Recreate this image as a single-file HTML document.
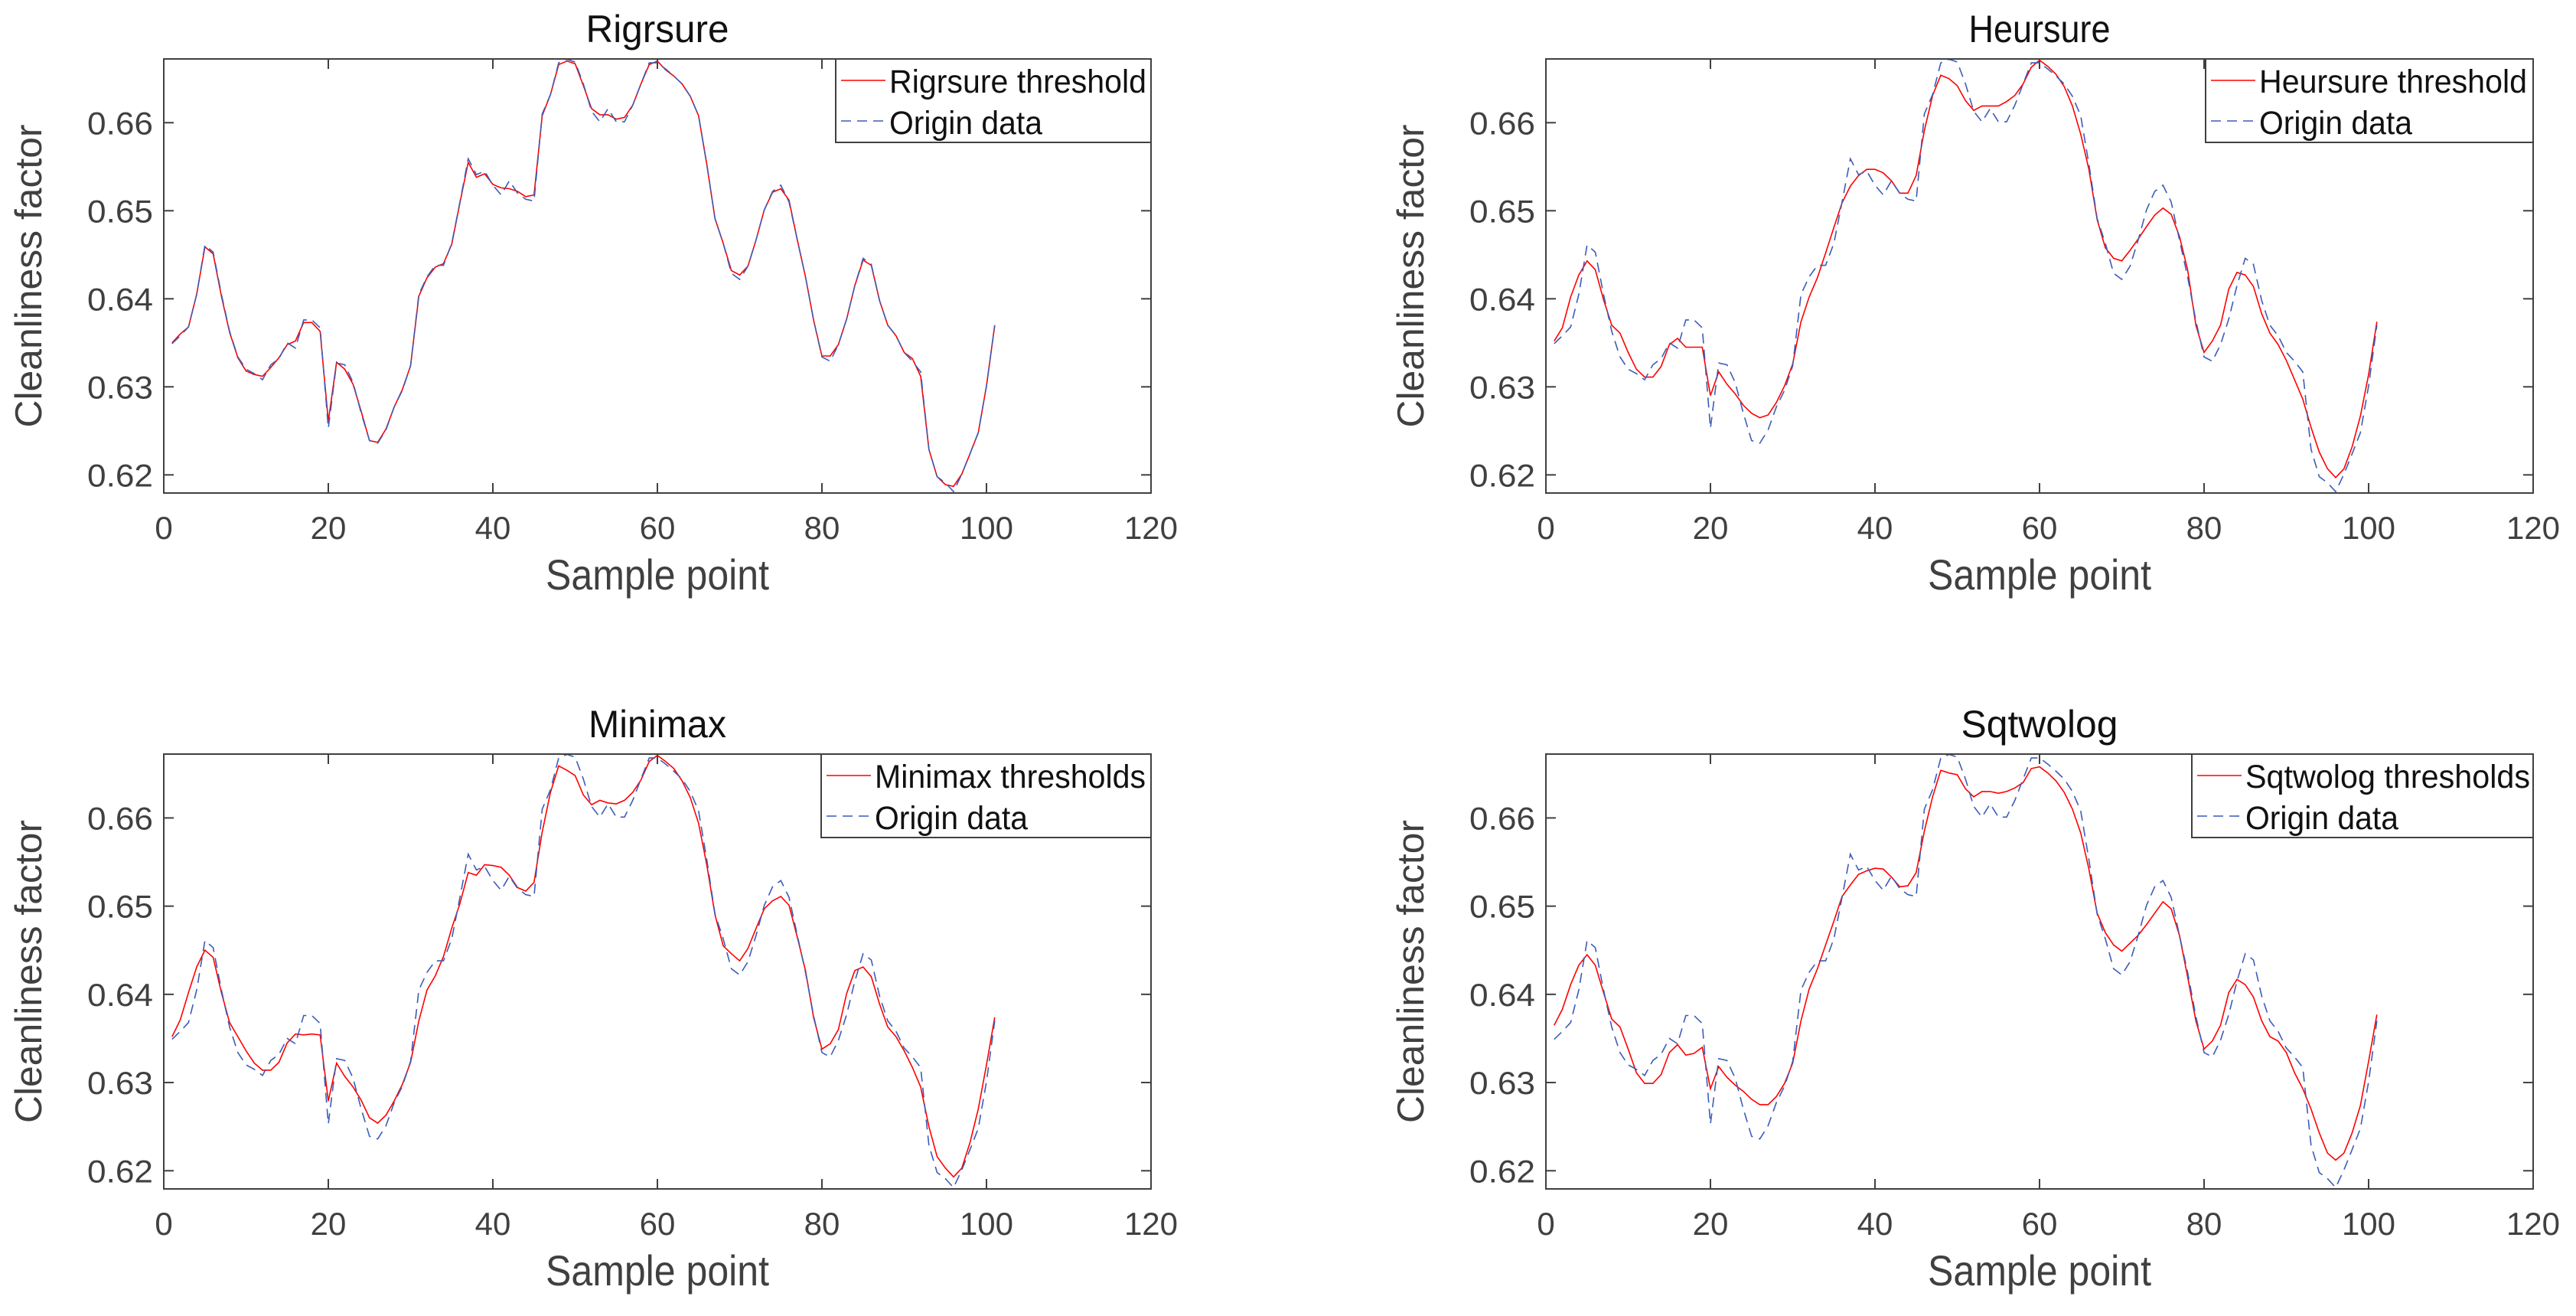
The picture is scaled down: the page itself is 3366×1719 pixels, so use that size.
<!DOCTYPE html>
<html><head><meta charset="utf-8"><style>
html,body{margin:0;padding:0;background:#fff;}
svg{display:block;font-family:"Liberation Sans",Arial,sans-serif;}
</style></head><body>
<svg id="fig" width="3366" height="1719" viewBox="0 0 3366 1719" xmlns="http://www.w3.org/2000/svg">
<rect width="3366" height="1719" fill="#fff"/>
</svg>
<script>
const xTicks = [0,20,40,60,80,100,120];
const yTicks = [0.62,0.63,0.64,0.65,0.66];
const yTickLabels = ["0.62","0.63","0.64","0.65","0.66"];
const originData = [0.6349,0.6358,0.6368,0.6405,0.6461,0.6453,0.6405,0.6363,0.6334,0.6320,0.6315,0.6308,0.6325,0.6332,0.6350,0.6344,0.6376,0.6376,0.6367,0.6253,0.6327,0.6325,0.6305,0.6270,0.6239,0.6236,0.6251,0.6277,0.6296,0.6324,0.6405,0.6425,0.6438,0.6438,0.6463,0.6510,0.6559,0.6541,0.6545,0.6529,0.6518,0.6534,0.6520,0.6513,0.6511,0.6610,0.6632,0.6668,0.6672,0.6669,0.6644,0.6613,0.6601,0.6616,0.6601,0.6601,0.6620,0.6644,0.6668,0.6668,0.6661,0.6653,0.6644,0.6630,0.6608,0.6553,0.6491,0.6463,0.6429,0.6422,0.6437,0.6467,0.6501,0.6522,0.6529,0.6510,0.6467,0.6425,0.6375,0.6334,0.6329,0.6348,0.6377,0.6415,0.6446,0.6439,0.6398,0.6370,0.6358,0.6339,0.6329,0.6317,0.6229,0.6198,0.6191,0.6181,0.6201,0.6224,0.6248,0.6301,0.6370];
const rigrsureData = [0.6350,0.6360,0.6368,0.6405,0.6459,0.6451,0.6403,0.6362,0.6333,0.6318,0.6314,0.6312,0.6322,0.6333,0.6348,0.6352,0.6373,0.6373,0.6363,0.6261,0.6328,0.6320,0.6303,0.6272,0.6239,0.6237,0.6252,0.6277,0.6297,0.6324,0.6403,0.6424,0.6436,0.6440,0.6462,0.6509,0.6555,0.6538,0.6542,0.6530,0.6526,0.6525,0.6522,0.6516,0.6518,0.6608,0.6632,0.6666,0.6670,0.6667,0.6642,0.6616,0.6609,0.6609,0.6604,0.6606,0.6620,0.6644,0.6666,0.6670,0.6660,0.6653,0.6644,0.6630,0.6608,0.6553,0.6491,0.6463,0.6432,0.6427,0.6437,0.6467,0.6501,0.6521,0.6525,0.6512,0.6467,0.6425,0.6375,0.6335,0.6335,0.6348,0.6377,0.6415,0.6444,0.6438,0.6398,0.6370,0.6358,0.6339,0.6332,0.6312,0.6229,0.6198,0.6189,0.6187,0.6201,0.6224,0.6248,0.6301,0.6370];
const heursureData = [0.6352,0.6367,0.6402,0.6427,0.6443,0.6433,0.6399,0.6370,0.6361,0.6339,0.6320,0.6311,0.6311,0.6323,0.6348,0.6355,0.6345,0.6345,0.6345,0.6290,0.6317,0.6303,0.6292,0.6279,0.6270,0.6265,0.6268,0.6282,0.6301,0.6326,0.6374,0.6402,0.6424,0.6452,0.6481,0.6509,0.6528,0.6540,0.6547,0.6547,0.6543,0.6534,0.6520,0.6520,0.6540,0.6591,0.6631,0.6654,0.6650,0.6642,0.6625,0.6614,0.6619,0.6619,0.6619,0.6624,0.6631,0.6644,0.6663,0.6671,0.6664,0.6655,0.6641,0.6619,0.6587,0.6547,0.6490,0.6458,0.6446,0.6443,0.6455,0.6468,0.6482,0.6495,0.6503,0.6496,0.6471,0.6433,0.6370,0.6339,0.6352,0.6370,0.6411,0.6430,0.6427,0.6414,0.6383,0.6361,0.6348,0.6330,0.6308,0.6286,0.6254,0.6226,0.6207,0.6197,0.6207,0.6232,0.6267,0.6314,0.6374];
const minimaxData = [0.6352,0.6371,0.6402,0.6431,0.6450,0.6442,0.6402,0.6368,0.6352,0.6336,0.6322,0.6314,0.6314,0.6323,0.6345,0.6355,0.6354,0.6355,0.6354,0.6279,0.6322,0.6307,0.6295,0.6280,0.6260,0.6254,0.6263,0.6279,0.6298,0.6323,0.6370,0.6405,0.6421,0.6443,0.6475,0.6503,0.6538,0.6535,0.6547,0.6546,0.6544,0.6535,0.6521,0.6517,0.6527,0.6584,0.6629,0.6659,0.6654,0.6648,0.6626,0.6615,0.6620,0.6617,0.6616,0.6620,0.6629,0.6643,0.6664,0.6671,0.6664,0.6656,0.6642,0.6623,0.6594,0.6547,0.6490,0.6455,0.6446,0.6438,0.6452,0.6475,0.6497,0.6506,0.6511,0.6501,0.6465,0.6427,0.6373,0.6338,0.6344,0.6360,0.6401,0.6427,0.6431,0.6420,0.6389,0.6363,0.6352,0.6336,0.6317,0.6295,0.6250,0.6216,0.6203,0.6193,0.6203,0.6232,0.6270,0.6320,0.6374];
const sqtwologData = [0.6365,0.6383,0.6411,0.6433,0.6445,0.6433,0.6402,0.6372,0.6363,0.6338,0.6311,0.6299,0.6299,0.6309,0.6334,0.6343,0.6331,0.6333,0.6340,0.6293,0.6318,0.6306,0.6297,0.6290,0.6281,0.6275,0.6275,0.6284,0.6299,0.6322,0.6370,0.6406,0.6429,0.6456,0.6483,0.6511,0.6524,0.6536,0.6540,0.6543,0.6542,0.6533,0.6522,0.6523,0.6538,0.6585,0.6624,0.6654,0.6651,0.6649,0.6633,0.6624,0.6630,0.6630,0.6628,0.6630,0.6634,0.6640,0.6656,0.6658,0.6651,0.6642,0.6629,0.6610,0.6583,0.6542,0.6492,0.6470,0.6456,0.6449,0.6458,0.6467,0.6479,0.6492,0.6505,0.6497,0.6467,0.6420,0.6370,0.6338,0.6347,0.6365,0.6402,0.6417,0.6411,0.6397,0.6370,0.6352,0.6347,0.6334,0.6311,0.6293,0.6270,0.6243,0.6220,0.6212,0.6220,0.6243,0.6274,0.6324,0.6377];
const titles = ["Rigrsure","Heursure","Minimax","Sqtwolog"];
const legendLabels = ["Rigrsure threshold","Heursure threshold","Minimax thresholds","Sqtwolog thresholds"];
const seriesList = [rigrsureData, heursureData, minimaxData, sqtwologData];

const NS = "http://www.w3.org/2000/svg";
const svg = document.getElementById('fig');
const X_MIN = 0, X_MAX = 120, Y_MIN = 0.61794, Y_MAX = 0.66724;
const AX = "#404040";
const BLUE = "#3d5cb8";
function mk(tag, attrs, parent) {
  const e = document.createElementNS(NS, tag);
  for (const k in attrs) e.setAttribute(k, attrs[k]);
  (parent || svg).appendChild(e);
  return e;
}
const panels = [
  {l:214, t:77, w:1290, h:567, legL:1092, legTW:336, titleW:187},
  {l:2020, t:77, w:1290, h:567, legL:2882, legTW:350, titleW:185},
  {l:214, t:985, w:1290, h:568, legL:1073, legTW:354, titleW:180},
  {l:2020, t:985, w:1290, h:568, legL:2864, legTW:372, titleW:205}
];
panels.forEach((p, i) => {
  const g = mk('g', {});
  
  
  const sx = v => p.l + (v - X_MIN) / (X_MAX - X_MIN) * p.w;
  const sy = v => p.t + p.h - (v - Y_MIN) / (Y_MAX - Y_MIN) * p.h;
  const cx = p.l + p.w / 2;
  const tt = mk('text', {x:cx, y:p.t - 22, 'text-anchor':'middle', 'font-size':50, fill:'#111', textLength:p.titleW, lengthAdjust:'spacingAndGlyphs'}, g);
  tt.textContent = titles[i];
  
  
  xTicks.forEach(v => {
    const x = sx(v);
    const t1 = mk('line', {x1:x, x2:x, y1:p.t+p.h, y2:p.t+p.h-13, stroke:AX, 'stroke-width':2}, g);
    
    
    mk('line', {x1:x, x2:x, y1:p.t, y2:p.t+13, stroke:AX, 'stroke-width':2}, g);
    const lb = mk('text', {x:x, y:p.t+p.h+60, 'text-anchor':'middle', 'font-size':42, fill:AX}, g);
    lb.textContent = String(v);
    
    
  });
  yTicks.forEach((v, k) => {
    const y = sy(v);
    const t1 = mk('line', {x1:p.l, x2:p.l+13, y1:y, y2:y, stroke:AX, 'stroke-width':2}, g);
    
    
    mk('line', {x1:p.l+p.w, x2:p.l+p.w-13, y1:y, y2:y, stroke:AX, 'stroke-width':2}, g);
    const lb = mk('text', {x:p.l-14, y:y+15, 'text-anchor':'end', 'font-size':42, fill:AX, textLength:86, lengthAdjust:'spacingAndGlyphs'}, g);
    lb.textContent = yTickLabels[k];
    
    
  });
  const xl = mk('text', {x:cx, y:p.t+p.h+126, 'text-anchor':'middle', 'font-size':56, fill:AX, textLength:292, lengthAdjust:'spacingAndGlyphs'}, g);
  xl.textContent = "Sample point";
  
  
  const ycy = p.t + p.h / 2, ycx = p.l - 160;
  const yl = mk('text', {x:ycx, y:ycy, 'text-anchor':'middle', 'font-size':49, fill:AX, textLength:396, lengthAdjust:'spacingAndGlyphs', transform:`rotate(-90 ${ycx} ${ycy})`}, g);
  yl.textContent = "Cleanliness factor";
  
  
  const cp = mk('clipPath', {id:'clip'+i}, g);
  mk('rect', {x:p.l, y:p.t-1, width:p.w, height:p.h+2}, cp);
  const toPts = arr => arr.map((v, j) => sx(j+1).toFixed(1) + ',' + sy(v).toFixed(1)).join(' ');
  const red = mk('polyline', {points:toPts(seriesList[i]), fill:'none', stroke:'#ff0000', 'stroke-width':1.6, 'clip-path':`url(#clip${i})`}, g);
  
  
  const blue = mk('polyline', {points:toPts(originData), fill:'none', stroke:BLUE, 'stroke-width':1.6, 'stroke-dasharray':'13 8', 'clip-path':`url(#clip${i})`}, g);
  
  
  const box = mk('rect', {x:p.l, y:p.t, width:p.w, height:p.h, fill:'none', stroke:AX, 'stroke-width':2}, g);
  
  
  const lg = mk('g', {}, g);
  
  
  const right = p.l + p.w;
  mk('rect', {x:p.legL, y:p.t, width:right - p.legL, height:109, fill:'#fff', stroke:AX, 'stroke-width':2}, lg);
  const e1 = mk('line', {x1:p.legL+7, x2:p.legL+65, y1:p.t+28, y2:p.t+28, stroke:'#ff0000', 'stroke-width':1.6}, lg);
  
  
  const l1 = mk('text', {x:p.legL+70, y:p.t+44, 'font-size':43, fill:'#111', textLength:p.legTW, lengthAdjust:'spacingAndGlyphs'}, lg);
  l1.textContent = legendLabels[i];
  
  
  const e2 = mk('line', {x1:p.legL+7, x2:p.legL+65, y1:p.t+81, y2:p.t+81, stroke:BLUE, 'stroke-width':1.6, 'stroke-dasharray':'13 8'}, lg);
  
  
  const l2 = mk('text', {x:p.legL+70, y:p.t+98, 'font-size':43, fill:'#111', textLength:200, lengthAdjust:'spacingAndGlyphs'}, lg);
  l2.textContent = "Origin data";
  
  
});
</script>
</body></html>
